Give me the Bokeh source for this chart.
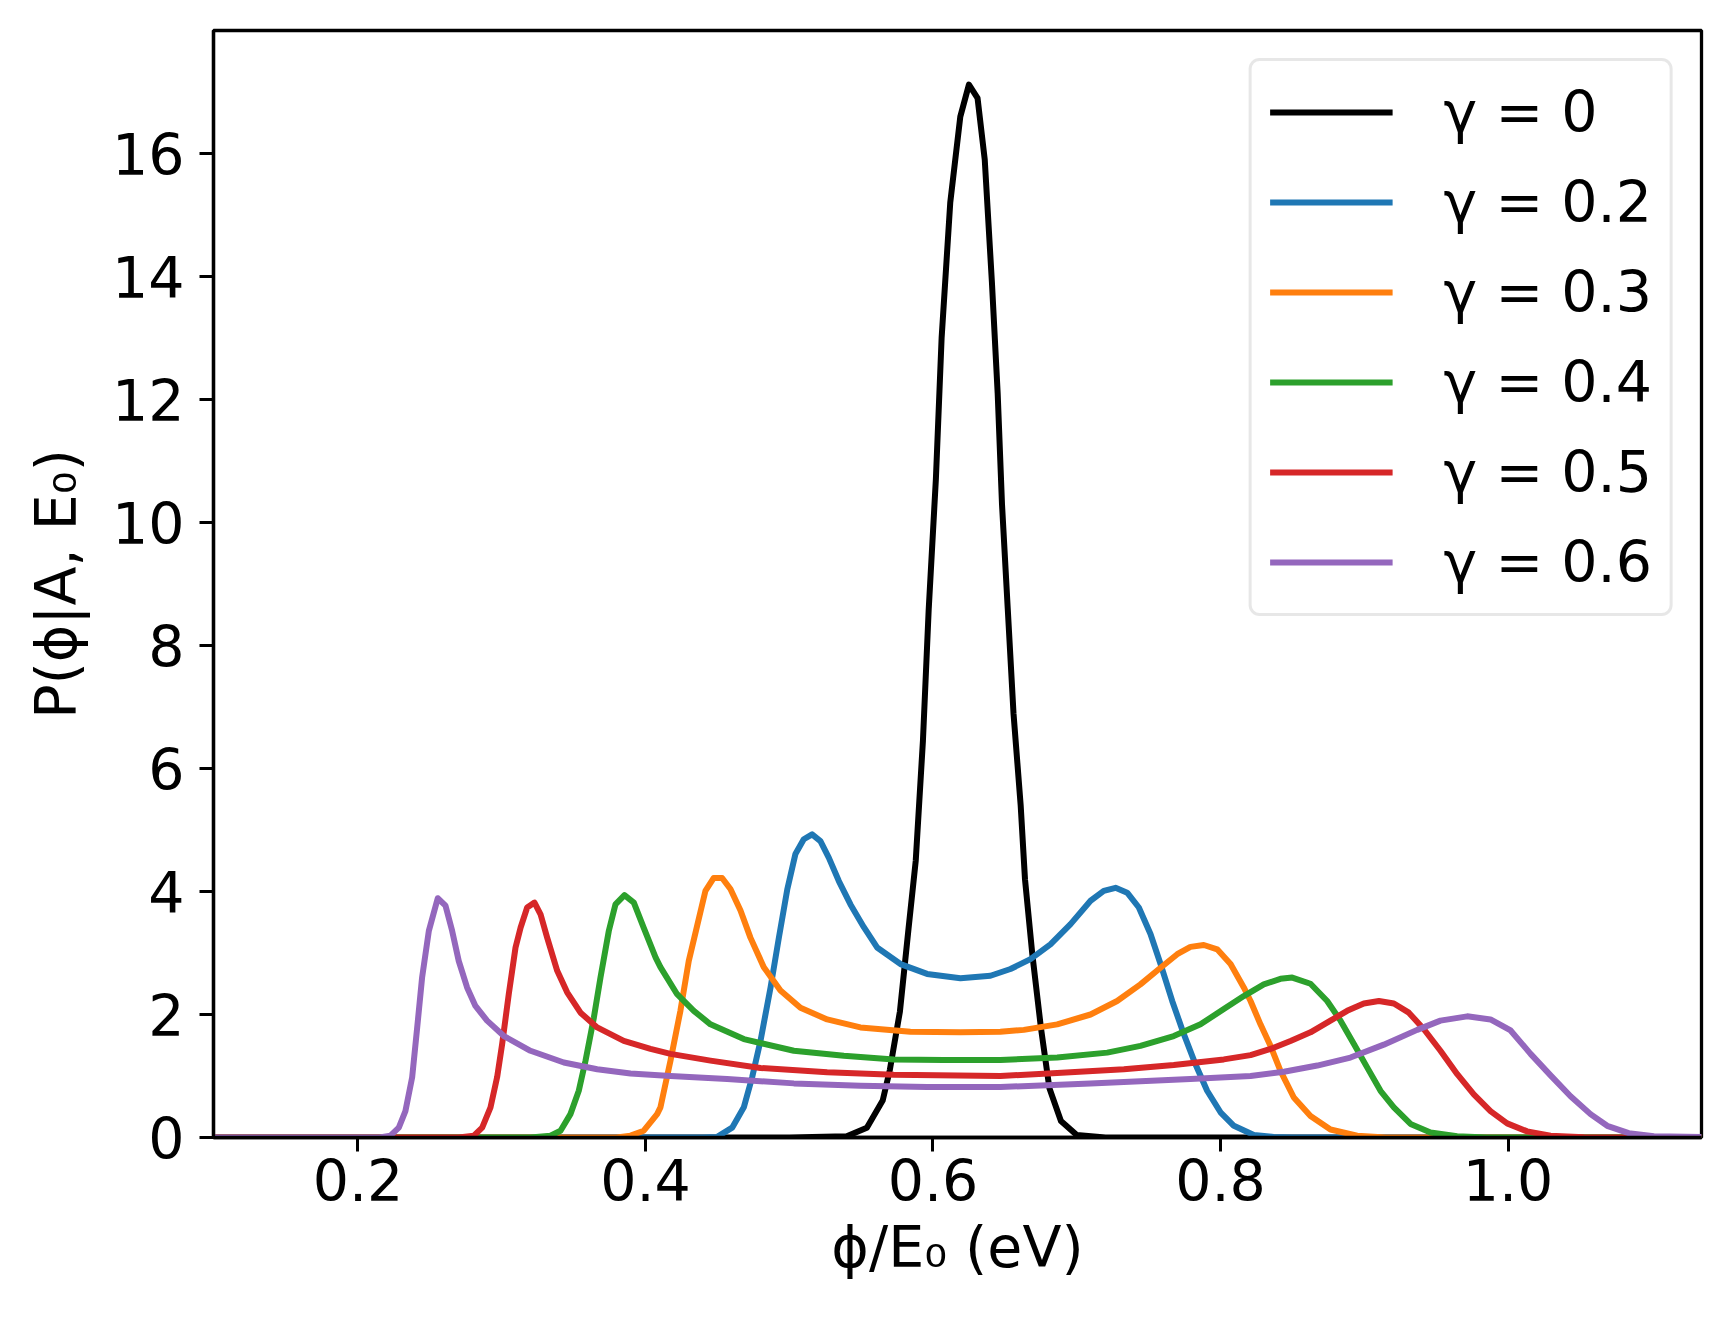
from bokeh.plotting import figure
from bokeh.models import Range1d, FixedTicker, NumeralTickFormatter
from bokeh.embed import file_html
from bokeh.resources import INLINE

# ---------------- data ----------------
labels = ["γ = 0", "γ = 0.2", "γ = 0.3", "γ = 0.4", "γ = 0.5", "γ = 0.6"]
colors = ["#000000", "#1f77b4", "#ff7f0e", "#2ca02c", "#d62728", "#9467bd"]

x_g0 = [0.0995, 0.50, 0.540, 0.554, 0.565, 0.570, 0.577, 0.583, 0.588, 0.593, 0.597, 0.602,
        0.606, 0.612, 0.619, 0.625, 0.631, 0.636, 0.641, 0.645, 0.648, 0.652, 0.656, 0.661,
        0.664, 0.669, 0.675, 0.681, 0.689, 0.700, 0.720, 1.1346]
y_g0 = [0, 0, 0.02, 0.16, 0.60, 1.10, 2.05, 3.40, 4.50, 6.45, 8.58, 10.7,
        13.0, 15.2, 16.6, 17.12, 16.9, 15.9, 13.9, 12.1, 10.3, 8.6, 6.9, 5.4,
        4.2, 3.0, 1.8, 0.8, 0.27, 0.04, 0, 0]

x_g02 = [0.0995, 0.440, 0.4499, 0.4603, 0.4684, 0.4742, 0.4800, 0.4870, 0.4928, 0.4986, 0.5043,
         0.5101, 0.5159, 0.5217, 0.5275, 0.5345, 0.5426, 0.5519, 0.5611, 0.5774, 0.5959, 0.6191,
         0.6400, 0.6539, 0.6678, 0.6817, 0.6957, 0.7096, 0.7188, 0.7270, 0.7351, 0.7432, 0.7513,
         0.7583, 0.7664, 0.7745, 0.7826, 0.7907, 0.8000, 0.8093, 0.8232, 0.8370, 0.850, 1.1346]
y_g02 = [0, 0, 0.01, 0.16, 0.49, 0.98, 1.57, 2.44, 3.25, 4.03, 4.61,
         4.85, 4.93, 4.82, 4.55, 4.17, 3.79, 3.42, 3.09, 2.82, 2.66, 2.59,
         2.63, 2.74, 2.90, 3.14, 3.47, 3.85, 4.01, 4.06, 3.98, 3.74, 3.31,
         2.82, 2.22, 1.68, 1.19, 0.76, 0.41, 0.19, 0.04, 0.01, 0, 0]

x_g03 = [0.0995, 0.380, 0.3896, 0.3988, 0.4081, 0.4104, 0.4174, 0.4243, 0.4301, 0.4359, 0.4417,
         0.4475, 0.4533, 0.4591, 0.4661, 0.4730, 0.4823, 0.4939, 0.5078, 0.5264, 0.5495, 0.5843,
         0.6191, 0.6469, 0.6632, 0.6864, 0.7096, 0.7281, 0.7443, 0.7583, 0.7699, 0.7791, 0.7884,
         0.7977, 0.8070, 0.8162, 0.8209, 0.8278, 0.8348, 0.8418, 0.8510, 0.8626, 0.8765, 0.8951,
         0.915, 1.1346]
y_g03 = [0, 0, 0.03, 0.11, 0.38, 0.49, 1.25, 2.06, 2.87, 3.44, 4.01,
         4.22, 4.22, 4.04, 3.69, 3.25, 2.77, 2.39, 2.11, 1.92, 1.79, 1.72,
         1.71, 1.72, 1.75, 1.84, 2.00, 2.22, 2.49, 2.76, 2.98, 3.10, 3.13,
         3.06, 2.82, 2.44, 2.22, 1.84, 1.49, 1.08, 0.65, 0.35, 0.13, 0.03,
         0, 0]

x_g04 = [0.0995, 0.320, 0.3339, 0.3409, 0.3478, 0.3536, 0.3583, 0.3641, 0.3687, 0.3745, 0.3791,
         0.3854, 0.3919, 0.3988, 0.4070, 0.4104, 0.4220, 0.4336, 0.4452, 0.4684, 0.5032, 0.5380,
         0.5728, 0.6075, 0.6469, 0.6864, 0.7212, 0.7443, 0.7675, 0.7861, 0.8023, 0.8162, 0.8301,
         0.8417, 0.8499, 0.8626, 0.8742, 0.8835, 0.8928, 0.9020, 0.9113, 0.9206, 0.9322, 0.9461,
         0.9646, 0.985, 1.1346]
y_g04 = [0, 0, 0.03, 0.11, 0.38, 0.76, 1.25, 1.95, 2.60, 3.36, 3.79,
         3.94, 3.82, 3.41, 2.93, 2.77, 2.33, 2.06, 1.84, 1.60, 1.41, 1.33,
         1.27, 1.26, 1.26, 1.30, 1.38, 1.49, 1.65, 1.84, 2.09, 2.30, 2.49,
         2.58, 2.60, 2.50, 2.22, 1.90, 1.52, 1.14, 0.76, 0.49, 0.22, 0.08,
         0.02, 0, 0]

x_g05 = [0.0995, 0.270, 0.2806, 0.2864, 0.2922, 0.2968, 0.3003, 0.3049, 0.3096, 0.3131, 0.3177,
         0.3228, 0.3270, 0.3316, 0.3386, 0.3455, 0.3548, 0.3664, 0.3849, 0.4035, 0.4174, 0.4452,
         0.4800, 0.5264, 0.5728, 0.6469, 0.6864, 0.7328, 0.7675, 0.8023, 0.8209, 0.8348, 0.8487,
         0.8626, 0.8765, 0.8881, 0.8997, 0.9102, 0.9206, 0.9310, 0.9415, 0.9530, 0.9647, 0.9762,
         0.9878, 0.9994, 1.0133, 1.0296, 1.0528, 1.1346]
y_g05 = [0, 0, 0.03, 0.16, 0.49, 0.98, 1.52, 2.33, 3.09, 3.41, 3.74,
         3.82, 3.63, 3.25, 2.71, 2.36, 2.03, 1.79, 1.57, 1.44, 1.36, 1.25,
         1.13, 1.06, 1.02, 1.00, 1.05, 1.11, 1.18, 1.27, 1.34, 1.44, 1.57,
         1.71, 1.90, 2.06, 2.18, 2.22, 2.18, 2.03, 1.76, 1.41, 1.03, 0.70,
         0.43, 0.23, 0.10, 0.03, 0.005, 0]

x_g06 = [0.0995, 0.215, 0.2226, 0.2284, 0.2330, 0.2377, 0.2412, 0.2446, 0.2493, 0.2555, 0.2609,
         0.2655, 0.2701, 0.2759, 0.2817, 0.2898, 0.3015, 0.3200, 0.3432, 0.3664, 0.3896, 0.4174,
         0.4568, 0.5032, 0.5495, 0.5959, 0.6469, 0.7096, 0.7791, 0.8209, 0.8441, 0.8673, 0.8904,
         0.9136, 0.9368, 0.9530, 0.9716, 0.9878, 1.0018, 1.0157, 1.0296, 1.0435, 1.0574, 1.069,
         1.084, 1.1015, 1.1346]
y_g06 = [0, 0, 0.03, 0.16, 0.43, 0.98, 1.79, 2.60, 3.36, 3.89, 3.77,
         3.36, 2.87, 2.44, 2.14, 1.90, 1.65, 1.41, 1.22, 1.11, 1.04, 1.00,
         0.95, 0.88, 0.84, 0.82, 0.82, 0.88, 0.95, 1.00, 1.07, 1.17, 1.30,
         1.51, 1.75, 1.90, 1.97, 1.92, 1.74, 1.36, 1.01, 0.67, 0.38, 0.19,
         0.07, 0.02, 0.01]

x_ticks = [0.2, 0.4, 0.6, 0.8, 1.0]
y_ticks = [0, 2, 4, 6, 8, 10, 12, 14, 16]

series_x = [x_g0, x_g02, x_g03, x_g04, x_g05, x_g06]
series_y = [y_g0, y_g02, y_g03, y_g04, y_g05, y_g06]

# ---------------- figure ----------------
FONT = "DejaVu Sans"
FS = "57px"

p = figure(
    frame_width=1488, frame_height=1107,
    x_range=Range1d(0.0995, 1.1346), y_range=Range1d(0, 18.0),
    output_backend="svg", toolbar_location=None,
    min_border_left=213, min_border_right=14, min_border_top=30, min_border_bottom=179,
    background_fill_color="white", border_fill_color="white",
)

for xs, ys, c, lab in zip(series_x, series_y, colors, labels):
    p.line(xs, ys, line_color=c, line_width=6, line_join="round", legend_label=lab)

p.xgrid.visible = False
p.ygrid.visible = False
p.outline_line_color = "black"
p.outline_line_width = 3.3
p.outline_line_alpha = 1.0

p.xaxis.ticker = FixedTicker(ticks=x_ticks)
p.xaxis.formatter = NumeralTickFormatter(format="0.0")
p.yaxis.ticker = FixedTicker(ticks=y_ticks)
p.yaxis.formatter = NumeralTickFormatter(format="0")

for ax in (p.xaxis[0], p.yaxis[0]):
    ax.axis_line_color = "black"
    ax.axis_line_width = 3.3
    ax.major_tick_line_color = "black"
    ax.major_tick_line_width = 3.0
    ax.major_tick_out = 14
    ax.major_tick_in = 0
    ax.minor_tick_out = 0
    ax.minor_tick_in = 0
    ax.major_label_text_font = FONT
    ax.major_label_text_font_size = FS
    ax.major_label_text_color = "black"
    ax.axis_label_text_font = FONT
    ax.axis_label_text_font_size = FS
    ax.axis_label_text_font_style = "normal"
    ax.axis_label_text_color = "black"

p.xaxis.axis_label = "ϕ/E₀ (eV)"
p.yaxis.axis_label = "P(ϕ|A, E₀)"
p.xaxis.major_label_standoff = 7
p.yaxis.major_label_standoff = 15
p.xaxis.axis_label_standoff = 10
p.yaxis.axis_label_standoff = 20

lg = p.legend[0]
lg.location = "top_right"
lg.margin = 28
lg.padding = 18
lg.spacing = 24
lg.glyph_width = 123
lg.glyph_height = 66
lg.label_height = 66
lg.label_standoff = 51
lg.label_text_font = FONT
lg.label_text_font_size = FS
lg.label_text_color = "black"
lg.border_line_color = "#d0d0d0"
lg.border_line_width = 3
lg.border_radius = 11
lg.background_fill_color = "white"
lg.background_fill_alpha = 1.0

open("out.html", "w").write(file_html(p, INLINE, title="P(phi|A,E0)"))
